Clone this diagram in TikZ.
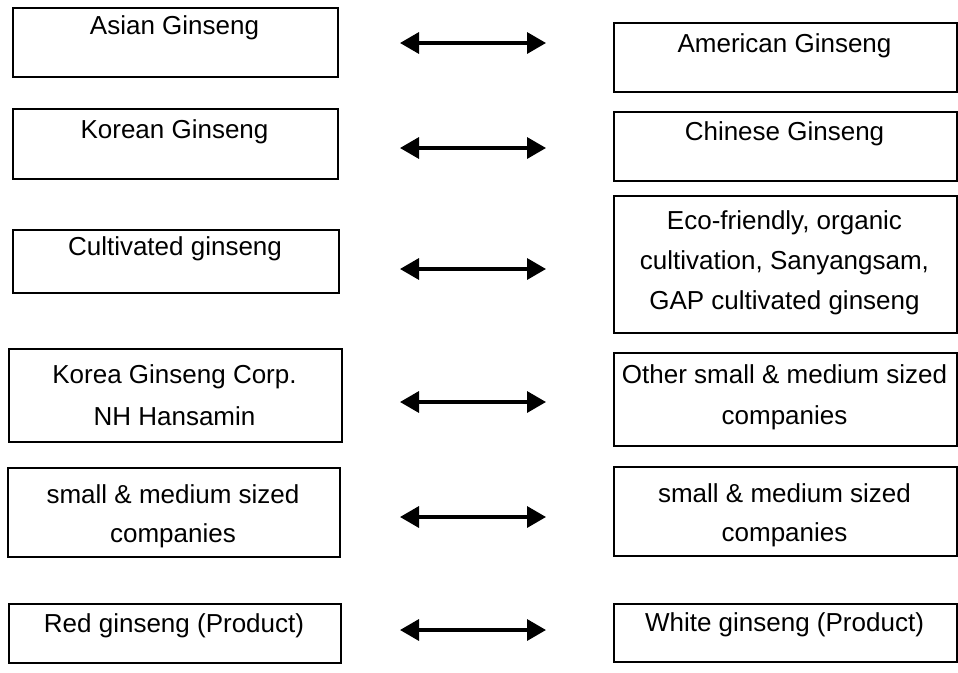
\documentclass[tikz,border=0pt]{standalone}
\usepackage{fontspec}
\setmainfont{Liberation Sans}
\usetikzlibrary{arrows.meta}
\begin{document}
\begin{tikzpicture}[x=1pt,y=-1pt,
  box/.style={draw, line width=1.8pt, inner sep=0pt, anchor=north west},
  lbl/.style={anchor=base, font=\fontsize{26}{40}\selectfont, inner sep=0pt},
  dbl/.style={line width=3.4pt, {Triangle[length=19pt,width=21pt]}-{Triangle[length=19pt,width=21pt]}}]
\useasboundingbox (0,0) rectangle (958,672);
% left boxes
\node[box, minimum width=325pt, minimum height=69pt] (L1) at (12,7) {};
\node[box, minimum width=325pt, minimum height=70pt] (L2) at (12,108) {};
\node[box, minimum width=326pt, minimum height=63pt] (L3) at (12,229) {};
\node[box, minimum width=333pt, minimum height=93pt] (L4) at (8,348) {};
\node[box, minimum width=332pt, minimum height=89pt] (L5) at (7,467) {};
\node[box, minimum width=332pt, minimum height=59pt] (L6) at (8,603) {};
% right boxes
\node[box, minimum width=343pt, minimum height=69pt] (R1) at (613,22) {};
\node[box, minimum width=343pt, minimum height=69pt] (R2) at (613,111) {};
\node[box, minimum width=343pt, minimum height=137pt] (R3) at (613,195) {};
\node[box, minimum width=343pt, minimum height=93pt] (R4) at (613,352) {};
\node[box, minimum width=343pt, minimum height=89pt] (R5) at (613,466) {};
\node[box, minimum width=343pt, minimum height=58pt] (R6) at (613,603) {};
% left texts
\node[lbl] (tL1) at (174.5,34) {Asian Ginseng};
\node[lbl] (tL2) at (174.5,138) {Korean Ginseng};
\node[lbl] (tL3) at (175,255) {Cultivated ginseng};
\node[lbl] (tL4a) at (174.5,383) {Korea Ginseng Corp.};
\node[lbl] (tL4b) at (174.5,425) {NH Hansamin};
\node[lbl] (tL5a) at (173,503) {small \& medium sized};
\node[lbl] (tL5b) at (173,542) {companies};
\node[lbl] (tL6) at (174,632) {Red ginseng (Product)};
% right texts
\node[lbl] (tR1) at (784.5,52) {American Ginseng};
\node[lbl] (tR2) at (784.5,140) {Chinese Ginseng};
\node[lbl] (tR3a) at (784.5,229) {Eco-friendly, organic};
\node[lbl] (tR3b) at (784.5,269) {cultivation, Sanyangsam,};
\node[lbl] (tR3c) at (784.5,309) {GAP cultivated ginseng};
\node[lbl] (tR4a) at (784.5,383) {Other small \& medium sized};
\node[lbl] (tR4b) at (784.5,424) {companies};
\node[lbl] (tR5a) at (784.5,502) {small \& medium sized};
\node[lbl] (tR5b) at (784.5,541) {companies};
\node[lbl] (tR6) at (784.5,631) {White ginseng (Product)};
% arrows
\foreach \i/\y in {1/43,2/148,3/269,4/402,5/517,6/630}{
  \coordinate (a\i l) at (400,\y);
  \coordinate (a\i r) at (546,\y);
  \draw[dbl] (a\i l) -- (a\i r);
}
\end{tikzpicture}
\end{document}
